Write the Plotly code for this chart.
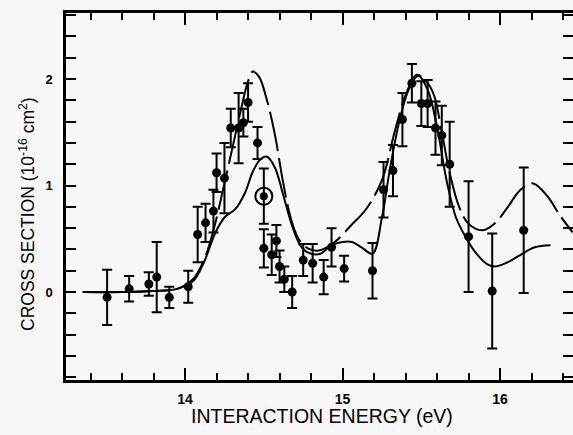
import plotly.graph_objects as go

# Measured data points (interaction energy in eV, cross section in 1e-16 cm^2)
energy = [13.505, 13.645, 13.77, 13.82, 13.90, 14.02, 14.08, 14.13, 14.18, 14.20,
          14.25, 14.29, 14.34, 14.37, 14.40, 14.46, 14.50, 14.55, 14.58, 14.60,
          14.63, 14.68, 14.75, 14.81, 14.88, 14.93, 15.01, 15.19, 15.26, 15.32,
          15.38, 15.44, 15.50, 15.54, 15.59, 15.63, 15.68, 15.80, 15.95, 16.15]
cross = [-0.05, 0.03, 0.075, 0.14, -0.05, 0.05, 0.54, 0.65, 0.76, 1.12,
         1.07, 1.54, 1.54, 1.59, 1.78, 1.40, 0.41, 0.35, 0.48, 0.24,
         0.12, 0.00, 0.30, 0.27, 0.14, 0.42, 0.22, 0.20, 0.96, 1.14,
         1.62, 1.96, 1.77, 1.77, 1.54, 1.47, 1.20, 0.52, 0.01, 0.58]
err = [0.26, 0.12, 0.11, 0.33, 0.10, 0.15, 0.26, 0.18, 0.20, 0.18,
       0.33, 0.18, 0.33, 0.13, 0.18, 0.15, 0.18, 0.19, 0.15, 0.15,
       0.12, 0.15, 0.15, 0.18, 0.16, 0.18, 0.12, 0.26, 0.26, 0.24,
       0.25, 0.18, 0.21, 0.22, 0.25, 0.28, 0.40, 0.52, 0.54, 0.59]

# Circled point
circ_energy = [14.50]
circ_cross = [0.90]
circ_err = [0.26]

# Theory curve A (dashed, tall first peak)
curveA_x = [13.35, 13.6, 13.8, 13.95, 14.05, 14.12, 14.18, 14.25, 14.30, 14.35,
            14.40, 14.43, 14.47, 14.52, 14.57, 14.62, 14.67, 14.72, 14.78, 14.85,
            14.95, 15.05, 15.15, 15.25, 15.33, 15.40, 15.47, 15.53, 15.58, 15.63,
            15.68, 15.74, 15.80, 15.89, 15.97, 16.05, 16.13, 16.21, 16.30, 16.38, 16.46]
curveA_y = [0.0, 0.0, 0.01, 0.03, 0.12, 0.30, 0.58, 1.02, 1.35, 1.68,
            1.98, 2.07, 2.02, 1.80, 1.48, 1.05, 0.70, 0.50, 0.41, 0.39,
            0.47, 0.62, 0.78, 1.05, 1.50, 1.85, 2.04, 1.98, 1.85, 1.50,
            1.12, 0.80, 0.64, 0.58, 0.65, 0.80, 0.96, 1.02, 0.90, 0.72, 0.56]

# Theory curve B (solid, lower first peak)
curveB_x = [13.35, 13.6, 13.8, 13.95, 14.05, 14.12, 14.19, 14.25, 14.32, 14.38,
            14.43, 14.48, 14.52, 14.57, 14.62, 14.68, 14.74, 14.80, 14.86, 14.93,
            15.00, 15.06, 15.12, 15.19, 15.25, 15.30, 15.36, 15.42, 15.48, 15.54,
            15.60, 15.66, 15.72, 15.78, 15.85, 15.92, 15.97, 16.05, 16.13, 16.22, 16.32]
curveB_y = [0.0, 0.0, 0.01, 0.03, 0.10, 0.28, 0.55, 0.70, 0.78, 0.93,
            1.13, 1.25, 1.27, 1.17, 0.93, 0.62, 0.42, 0.36, 0.36, 0.44,
            0.47, 0.47, 0.42, 0.36, 0.70, 1.15, 1.60, 1.90, 2.03, 1.90,
            1.55, 1.05, 0.70, 0.52, 0.36, 0.26, 0.24, 0.28, 0.35, 0.42, 0.44]

x_ticks = [14, 15, 16]
y_ticks = [0, 1, 2]

fig = go.Figure()

fig.add_trace(go.Scatter(x=curveA_x, y=curveA_y, mode="lines",
                         line=dict(color="black", width=2, dash="40px,7px", shape="spline"),
                         hoverinfo="skip", showlegend=False))
fig.add_trace(go.Scatter(x=curveB_x, y=curveB_y, mode="lines",
                         line=dict(color="black", width=2, shape="spline"),
                         hoverinfo="skip", showlegend=False))

fig.add_trace(go.Scatter(x=energy, y=cross, mode="markers",
                         marker=dict(color="black", size=9),
                         error_y=dict(type="data", array=err, visible=True,
                                      color="black", thickness=2, width=5),
                         showlegend=False))

fig.add_trace(go.Scatter(x=circ_energy, y=circ_cross, mode="markers",
                         marker=dict(color="black", size=8),
                         error_y=dict(type="data", array=circ_err, visible=True,
                                      color="black", thickness=2, width=5),
                         showlegend=False))
fig.add_trace(go.Scatter(x=circ_energy, y=circ_cross, mode="markers",
                         marker=dict(symbol="circle-open", color="black", size=17,
                                     line=dict(width=2, color="black")),
                         showlegend=False))

font_family = "Liberation Sans, Arial, sans-serif"

fig.update_layout(
    width=573, height=435,
    margin=dict(l=66, r=0, t=13, b=55),
    paper_bgcolor="#f7f7f7",
    plot_bgcolor="#f7f7f7",
    font=dict(family=font_family, color="black"),
    xaxis=dict(
        range=[13.244, 16.463], automargin=False,
        tickvals=x_ticks, ticktext=[f"<b>{v}</b>" for v in x_ticks],
        ticks="inside", ticklen=12, tickwidth=2, tickcolor="black",
        minor=dict(dtick=0.2, tick0=14, ticks="inside", ticklen=7, tickwidth=2, tickcolor="black"),
        showline=True, linecolor="black", linewidth=2.5, mirror="ticks",
        showgrid=False, zeroline=False,
        tickfont=dict(size=14, family=font_family),
        ticklabelstandoff=4,
    ),
    yaxis=dict(
        range=[-0.826, 2.62], automargin=False,
        tickvals=y_ticks, ticktext=[f"<b>{v}</b>" for v in y_ticks],
        ticks="inside", ticklen=10, tickwidth=2, tickcolor="black",
        minor=dict(dtick=0.2, tick0=0, ticks="inside", ticklen=10, tickwidth=2, tickcolor="black"),
        showline=True, linecolor="black", linewidth=2.5, mirror="ticks",
        showgrid=False, zeroline=False,
        tickfont=dict(size=13, family=font_family),
        ticklabelstandoff=8,
    ),
    annotations=[
        dict(text="INTERACTION ENERGY (eV)", xref="paper", yref="paper",
             x=(322 - 66) / 507, y=-(416 - 380) / 367, xanchor="center", yanchor="middle",
             showarrow=False, font=dict(size=19.5, family=font_family)),
        dict(text="CROSS SECTION (10<sup>-16</sup> cm<sup>2</sup>)", xref="paper", yref="paper",
             x=-(66 - 27) / 507, y=(380 - 214) / 367, xanchor="center", yanchor="middle",
             textangle=-90, showarrow=False, font=dict(size=17.5, family=font_family)),
    ],
)

fig.write_html("out.html", config={"displayModeBar": False},
               post_script="document.body.style.margin='0';document.body.style.overflow='hidden';")
